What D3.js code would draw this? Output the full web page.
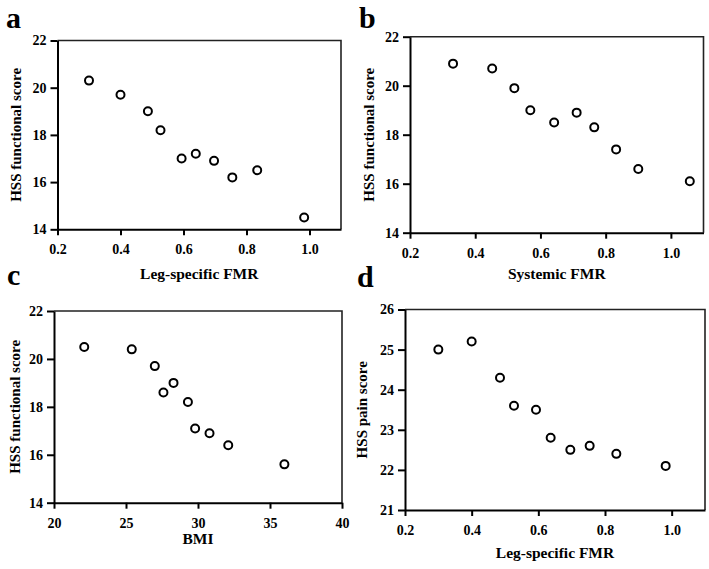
<!DOCTYPE html>
<html>
<head>
<meta charset="utf-8">
<script src="https://cdn.jsdelivr.net/npm/d3@7"></script>
<style>
  html, body { margin: 0; padding: 0; background: #fff; }
  svg { display: block; font-family: "Liberation Serif", "Times New Roman", serif; font-weight: bold; }
  svg text { font-family: "Liberation Serif", "Times New Roman", serif !important; font-weight: bold !important; }
</style>
</head>
<body>
<svg id="chart" width="709" height="569"></svg>
<script>
// ---- Data ----
const legFMR      = [0.30, 0.40, 0.487, 0.527, 0.594, 0.639, 0.697, 0.755, 0.834, 0.983];
const hssFuncLeg  = [20.3, 19.7, 19.0, 18.2, 17.0, 17.2, 16.9, 16.2, 16.5, 14.5];

const sysFMR      = [0.332, 0.452, 0.52, 0.569, 0.642, 0.711, 0.765, 0.832, 0.900, 1.058];
const hssFuncSys  = [20.9, 20.7, 19.9, 19.0, 18.5, 18.9, 18.3, 17.4, 16.6, 16.1];

const bmi         = [22.1, 25.4, 27.0, 28.3, 27.6, 29.3, 29.8, 30.8, 32.1, 36.0];
const hssFuncBMI  = [20.5, 20.4, 19.7, 19.0, 18.6, 18.2, 17.1, 16.9, 16.4, 15.6];

const legFMR2     = [0.30, 0.40, 0.485, 0.527, 0.593, 0.637, 0.696, 0.754, 0.834, 0.982];
const hssPain     = [25.0, 25.2, 24.3, 23.6, 23.5, 22.8, 22.5, 22.6, 22.4, 22.1];

const fmrTicks    = [0.2, 0.4, 0.6, 0.8, 1.0];
const bmiTicks    = [20, 25, 30, 35, 40];
const funcTicks   = [14, 16, 18, 20, 22];
const painTicks   = [21, 22, 23, 24, 25, 26];

// ---- Panels ----
const panels = [
  { label: "a", lx: 6, ly: 28, x: legFMR, y: hssFuncLeg, xd: [0.2, 1.1], yd: [14, 22], xt: fmrTicks, yt: funcTicks,
    fmt: d3.format(".1f"), xTitle: "Leg-specific FMR", yTitle: "HSS functional score",
    L: 57.5, R: 341, T: 40.5, B: 229.3, xtY: 279, ytX: 21 },
  { label: "b", lx: 359, ly: 28, x: sysFMR, y: hssFuncSys, xd: [0.2, 1.1], yd: [14, 22], xt: fmrTicks, yt: funcTicks,
    fmt: d3.format(".1f"), xTitle: "Systemic FMR", yTitle: "HSS functional score",
    L: 410, R: 703.5, T: 36.7, B: 232.7, xtY: 279, ytX: 374 },
  { label: "c", lx: 7, ly: 285, x: bmi, y: hssFuncBMI, xd: [20, 40], yd: [14, 22], xt: bmiTicks, yt: funcTicks,
    fmt: d3.format("d"), xTitle: "BMI", yTitle: "HSS functional score",
    L: 54, R: 342, T: 311, B: 502.7, xtY: 544, ytX: 20 },
  { label: "d", lx: 357, ly: 287, x: legFMR2, y: hssPain, xd: [0.2, 1.1], yd: [21, 26], xt: fmrTicks, yt: painTicks,
    fmt: d3.format(".1f"), xTitle: "Leg-specific FMR", yTitle: "HSS pain score",
    L: 405, R: 705, T: 309.5, B: 510, xtY: 558, ytX: 367 }
];

const svg = d3.select("#chart");

panels.forEach(p => {
  const g = svg.append("g");
  const x = d3.scaleLinear().domain(p.xd).range([p.L, p.R]);
  const y = d3.scaleLinear().domain(p.yd).range([p.B, p.T]);

  // panel letter
  g.append("text").attr("x", p.lx).attr("y", p.ly)
    .style("font-size", "30px").attr("fill", "#000").text(p.label);

  // top & right frame
  g.append("path")
    .attr("d", `M${p.L},${p.T}H${p.R}V${p.B}`)
    .attr("fill", "none").attr("stroke", "#222").attr("stroke-width", 1.6);

  // x axis
  const xa = g.append("g").attr("transform", `translate(0,${p.B})`)
    .call(d3.axisBottom(x).tickValues(p.xt).tickFormat(p.fmt).tickSize(6).tickPadding(9).tickSizeOuter(0));
  // y axis
  const ya = g.append("g").attr("transform", `translate(${p.L},0)`)
    .call(d3.axisLeft(y).tickValues(p.yt).tickFormat(d3.format("d")).tickSize(7).tickPadding(4).tickSizeOuter(0));

  [xa, ya].forEach(a => {
    a.attr("font-family", null).attr("font-size", null);
    a.select(".domain").attr("stroke", "#000").attr("stroke-width", 2);
    a.selectAll(".tick line").attr("stroke", "#000").attr("stroke-width", 2);
    a.selectAll(".tick text").attr("fill", "#000")
      .style("font-size", "14px");
  });

  // axis titles
  g.append("text").attr("x", (p.L + p.R) / 2).attr("y", p.xtY)
    .attr("text-anchor", "middle").style("font-size", "15.5px").attr("fill", "#000").text(p.xTitle);
  g.append("text")
    .attr("transform", `translate(${p.ytX},${(p.T + p.B) / 2}) rotate(-90)`)
    .attr("text-anchor", "middle").style("font-size", "15px").attr("fill", "#000").text(p.yTitle);

  // points
  g.selectAll("circle").data(p.x.map((v, i) => [v, p.y[i]])).join("circle")
    .attr("cx", d => x(d[0])).attr("cy", d => y(d[1])).attr("r", 4)
    .attr("fill", "#fff").attr("stroke", "#000").attr("stroke-width", 2);
});
</script>
</body>
</html>
